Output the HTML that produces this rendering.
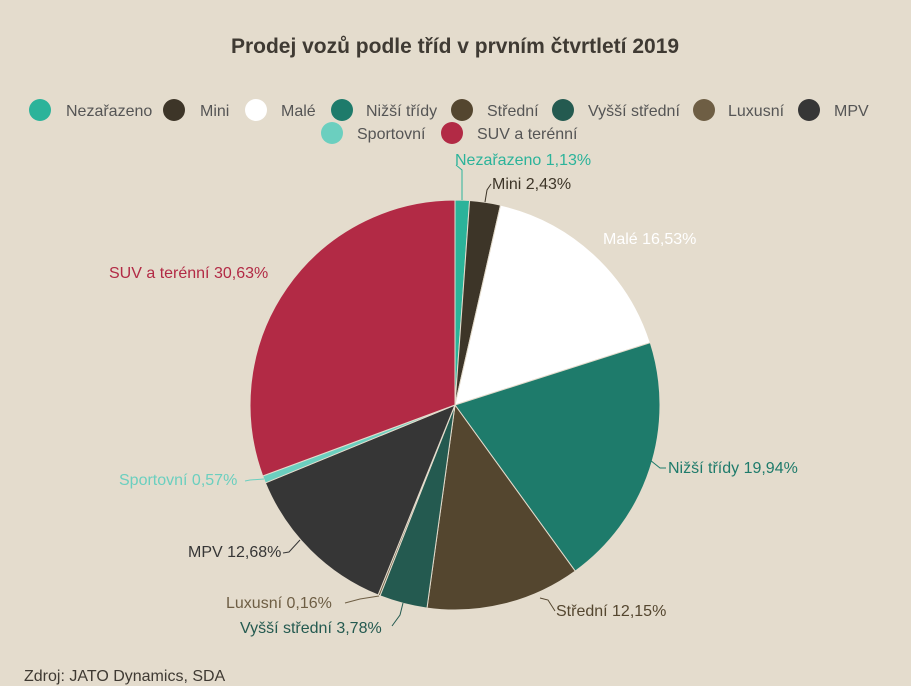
<!DOCTYPE html>
<html><head><meta charset="utf-8"><style>
body{margin:0;background:#e4dccd;}
svg{display:block;font-family:"Liberation Sans",sans-serif;}
</style></head><body>
<svg width="911" height="686" viewBox="0 0 911 686">
<rect width="911" height="686" fill="#e4dccd"/>
<text x="455" y="53" text-anchor="middle" font-size="21" font-weight="bold" fill="#3f3a33">Prodej vozů podle tříd v prvním čtvrtletí 2019</text>
<g font-size="16" fill="#555">
<circle cx="40" cy="110" r="11" fill="#2bb39a"/><text x="66" y="116">Nezařazeno</text>
<circle cx="174" cy="110" r="11" fill="#3d3528"/><text x="200" y="116">Mini</text>
<circle cx="256" cy="110" r="11" fill="#ffffff"/><text x="281" y="116">Malé</text>
<circle cx="342" cy="110" r="11" fill="#1e7b6b"/><text x="366" y="116">Nižší třídy</text>
<circle cx="462" cy="110" r="11" fill="#54462f"/><text x="487" y="116">Střední</text>
<circle cx="563" cy="110" r="11" fill="#245a50"/><text x="588" y="116">Vyšší střední</text>
<circle cx="704" cy="110" r="11" fill="#6e5e44"/><text x="728" y="116">Luxusní</text>
<circle cx="809" cy="110" r="11" fill="#363636"/><text x="834" y="116">MPV</text>
<circle cx="332" cy="133" r="11" fill="#6bcfbf"/><text x="357" y="139">Sportovní</text>
<circle cx="452" cy="133" r="11" fill="#b22a45"/><text x="477" y="139">SUV a terénní</text>
</g>
<g stroke="#e4dccd" stroke-width="1">
<path d="M455,405 L455,200 A205,205 0 0 1 469.6,200.5Z" fill="#2bb39a"/>
<path d="M455,405 L469.6,200.5 A205,205 0 0 1 500.5,205.1Z" fill="#3d3528"/>
<path d="M455,405 L500.5,205.1 A205,205 0 0 1 650.3,342.7Z" fill="#ffffff"/>
<path d="M455,405 L650.3,342.7 A205,205 0 0 1 575.2,571.1Z" fill="#1e7b6b"/>
<path d="M455,405 L575.2,571.1 A205,205 0 0 1 427.0,608.1Z" fill="#54462f"/>
<path d="M455,405 L427.0,608.1 A205,205 0 0 1 380.0,595.8Z" fill="#245a50"/>
<path d="M455,405 L380.0,595.8 A205,205 0 0 1 378.1,595.0Z" fill="#6e5e44"/>
<path d="M455,405 L378.1,595.0 A205,205 0 0 1 265.4,482.9Z" fill="#363636"/>
<path d="M455,405 L265.4,482.9 A205,205 0 0 1 262.7,476.0Z" fill="#6bcfbf"/>
<path d="M455,405 L262.7,476.0 A205,205 0 0 1 455,200Z" fill="#b22a45"/>
</g>
<g fill="none" stroke-width="1">
<path d="M462,200 L462,170 L456,165" stroke="#2bb39a"/>
<path d="M485,202 L487,190 L491,184" stroke="#3d3528"/>
<path d="M650,460 L660,468 L666,468" stroke="#1e7b6b"/>
<path d="M540,598 L548,600 L555,611" stroke="#54462f"/>
<path d="M403,603 L400,615 L392,626" stroke="#245a50"/>
<path d="M379,596 L360,599 L345,603" stroke="#6e5e44"/>
<path d="M300,540 L289,552 L283,553" stroke="#363636"/>
<path d="M264,479 L250,480 L245,481" stroke="#6bcfbf"/>
</g>
<g font-size="16">
<text x="455" y="165" fill="#2bb39a">Nezařazeno 1,13%</text>
<text x="492" y="189" fill="#3d3528">Mini 2,43%</text>
<text x="603" y="244" fill="#ffffff">Malé 16,53%</text>
<text x="668" y="473" fill="#1e7b6b">Nižší třídy 19,94%</text>
<text x="556" y="616" fill="#54462f">Střední 12,15%</text>
<text x="240" y="633" fill="#245a50">Vyšší střední 3,78%</text>
<text x="226" y="608" fill="#6e5e44">Luxusní 0,16%</text>
<text x="188" y="557" fill="#363636">MPV 12,68%</text>
<text x="119" y="485" fill="#6bcfbf">Sportovní 0,57%</text>
<text x="109" y="278" fill="#b22a45">SUV a terénní 30,63%</text>
<text x="24" y="681" fill="#3f3a33">Zdroj: JATO Dynamics, SDA</text>
</g>
</svg>
</body></html>
